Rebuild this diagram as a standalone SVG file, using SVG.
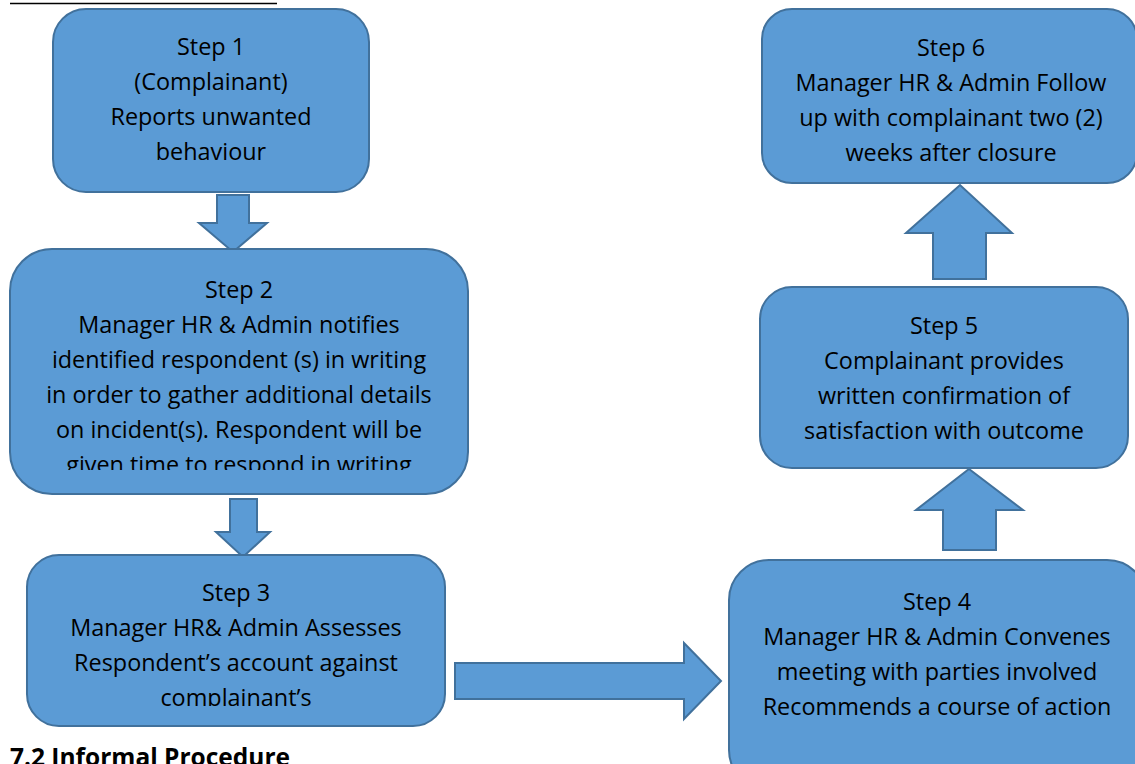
<svg xmlns="http://www.w3.org/2000/svg" width="1135" height="764" viewBox="0 0 1135 764">
<style>
.box{fill:#5B9BD5;stroke:#41719C;stroke-width:2}
.arr{fill:#5B9BD5;stroke:#41719C;stroke-width:2;stroke-linejoin:miter}
.t{font-family:"Open Sans","Liberation Sans",sans-serif;font-size:23.4px;fill:#000;text-anchor:middle}
.h{font-family:"Open Sans","Liberation Sans",sans-serif;font-size:24.5px;font-weight:bold;fill:#000}
</style>
<defs>
<clipPath id="c2"><rect x="0" y="240" width="480" height="230"/></clipPath>
<clipPath id="c3"><rect x="0" y="550" width="480" height="156"/></clipPath>
</defs>
<rect width="1135" height="764" fill="#fff"/>
<line x1="10" y1="3.5" x2="277" y2="3.5" stroke="#000" stroke-width="1.6"/>

<g id="connectors">
<polygon class="arr" points="217,195 249,195 249,223 267,223 233,252 199,223 217,223"/>
<polygon class="arr" points="230,499 257,499 257,532 270,532 243,557 216,532 230,532"/>
<polygon class="arr" points="455,663 684,663 684,643 721,681 684,719 684,699 455,699"/>
<polygon class="arr" points="943,550 996,550 996,510 1023,510 969,469 916,510 943,510"/>
<polygon class="arr" points="933,279 986,279 986,233 1012,233 960,185 906,233 933,233"/>
</g>

<g id="step1">
<rect class="box" x="53" y="9" width="316" height="183" rx="33"/>
<text class="t" x="211" y="55">Step 1</text>
<text class="t" x="211" y="90">(Complainant)</text>
<text class="t" x="211" y="125">Reports unwanted</text>
<text class="t" x="211" y="160">behaviour</text>
</g>

<g id="step2">
<rect class="box" x="10" y="249" width="458" height="245" rx="42"/>
<g clip-path="url(#c2)">
<text class="t" x="239" y="298">Step 2</text>
<text class="t" x="239" y="333">Manager HR &amp; Admin notifies</text>
<text class="t" x="239" y="368">identified respondent (s) in writing</text>
<text class="t" x="239" y="403">in order to gather additional details</text>
<text class="t" x="239" y="438">on incident(s). Respondent will be</text>
<text class="t" x="239" y="473">given time to respond in writing</text>
</g>
</g>

<g id="step3">
<rect class="box" x="27" y="555" width="418" height="171" rx="32"/>
<g clip-path="url(#c3)">
<text class="t" x="236" y="601">Step 3</text>
<text class="t" x="236" y="636">Manager HR&amp; Admin Assesses</text>
<text class="t" x="236" y="671">Respondent’s account against</text>
<text class="t" x="236" y="706">complainant’s</text>
</g>
</g>

<g id="step4">
<rect class="box" x="729" y="560" width="418" height="230" rx="40"/>
<text class="t" x="937" y="610">Step 4</text>
<text class="t" x="937" y="645">Manager HR &amp; Admin Convenes</text>
<text class="t" x="937" y="680">meeting with parties involved</text>
<text class="t" x="937" y="715">Recommends a course of action</text>
</g>

<g id="step5">
<rect class="box" x="760" y="287" width="368" height="181" rx="32"/>
<text class="t" x="944" y="334">Step 5</text>
<text class="t" x="944" y="369">Complainant provides</text>
<text class="t" x="944" y="404">written confirmation of</text>
<text class="t" x="944" y="439">satisfaction with outcome</text>
</g>

<g id="step6">
<rect class="box" x="762" y="9" width="375" height="174" rx="30"/>
<text class="t" x="951" y="56">Step 6</text>
<text class="t" x="951" y="91">Manager HR &amp; Admin Follow</text>
<text class="t" x="951" y="126">up with complainant two (2)</text>
<text class="t" x="951" y="161">weeks after closure</text>
</g>

<text class="h" x="10" y="766">7.2 Informal Procedure</text>
</svg>
